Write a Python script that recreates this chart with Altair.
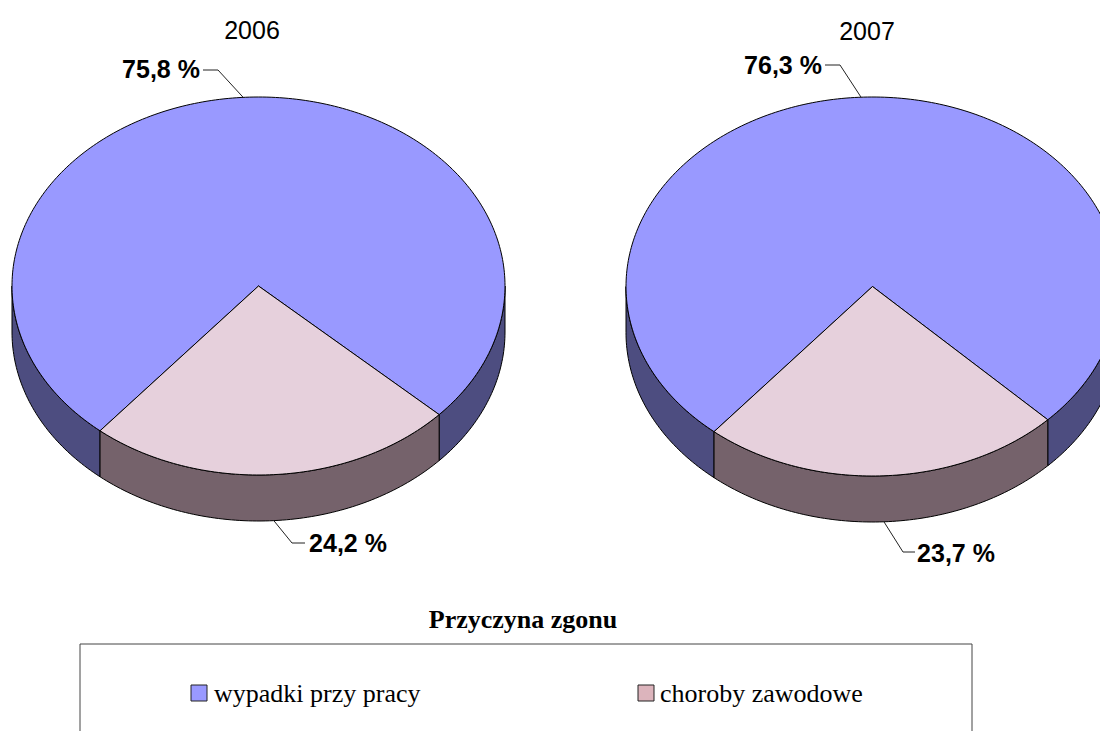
import math
import altair as alt

YEARS = ["2006", "2007"]
WYPADKI = [75.8, 76.3]
CHOROBY = [24.2, 23.7]
LABEL_W = ["75,8 %", "76,3 %"]
LABEL_C = ["24,2 %", "23,7 %"]
LEGEND_TITLE = "Przyczyna zgonu"
LEGEND_NAMES = ["wypadki przy pracy", "choroby zawodowe"]

W, H = 1092, 723
OFF = 8  # page margin
CX = [258.5 - OFF, 872.5 - OFF]
CY = [286 - OFF, 286.5 - OFF]
RX = [246.5, 246.5]
RY = [189, 189.5]
DEPTH = 46
START = 220.0

COL = {
    "blue": "#9999ff",
    "blue_side": "#4d4d80",
    "pink": "#e6d0dc",
    "pink_side": "#75626b",
    "swatch_pink": "#dcb4bc",
    "box": "#ffffff",
}


def pt(i, a, dy=0):
    r = math.radians(a)
    return [CX[i] + RX[i] * math.sin(r), CY[i] - RY[i] * math.cos(r) + dy]


def arc(i, a0, a1, dy=0):
    n = max(2, int(abs(a1 - a0)) + 2)
    return [pt(i, a0 + (a1 - a0) * k / (n - 1), dy) for k in range(n)]


def poly(coords, kind):
    ring = coords + [coords[0]]
    return {"type": "Feature", "properties": {"kind": kind},
            "geometry": {"type": "Polygon", "coordinates": [ring]}}


def line(coords):
    return {"type": "Feature", "properties": {"kind": "leader"},
            "geometry": {"type": "LineString", "coordinates": coords}}


def side(i, a0, a1, kind):
    out = []
    for lo, hi in ((90, 270), (450, 630)):
        s, e = max(a0, lo), min(a1, hi)
        if e > s:
            out.append(poly(arc(i, s, e) + arc(i, e, s, DEPTH), kind))
    return out


sides, tops, leaders = [], [], []
# elbow and end of each leader, relative to the page
ELBOW_W = [(218, 70), (840, 65)]
END_W = [(203, 70), (825, 65)]
ELBOW_C = [(292, 543), (903, 552)]
END_C = [(305, 543), (915, 552)]
for i in range(len(YEARS)):
    a_blue = START + WYPADKI[i] * 3.6
    a_pink = a_blue + CHOROBY[i] * 3.6
    sides += side(i, START, a_blue, "blue_side")
    sides += side(i, a_blue, a_pink, "pink_side")
    tops.append(poly([[CX[i], CY[i]]] + arc(i, START, a_blue), "blue"))
    tops.append(poly([[CX[i], CY[i]]] + arc(i, a_blue, a_pink), "pink"))
    m_blue = (START + a_blue) / 2
    m_pink = (a_blue + a_pink) / 2
    leaders.append(line([pt(i, m_blue), [ELBOW_W[i][0] - OFF, ELBOW_W[i][1] - OFF],
                         [END_W[i][0] - OFF, END_W[i][1] - OFF]]))
    leaders.append(line([pt(i, m_pink, DEPTH), [ELBOW_C[i][0] - OFF, ELBOW_C[i][1] - OFF],
                         [END_C[i][0] - OFF, END_C[i][1] - OFF]]))

box = [poly([[80 - OFF, 644 - OFF], [972 - OFF, 644 - OFF], [972 - OFF, 780], [80 - OFF, 780]], "box")]
swatches = [
    poly([[191 - OFF, 685 - OFF], [207 - OFF, 685 - OFF], [207 - OFF, 701 - OFF], [191 - OFF, 701 - OFF]], "blue"),
    poly([[638 - OFF, 685 - OFF], [654 - OFF, 685 - OFF], [654 - OFF, 701 - OFF], [638 - OFF, 701 - OFF]], "swatch_pink"),
]

kinds = list(COL)
color = alt.Color("properties.kind:N", legend=None,
                  scale=alt.Scale(domain=kinds, range=[COL[k] for k in kinds]))
proj = dict(type="identity", scale=1, translate=[0, 0])


def shapes(feats, sw=1.0, stroke="#000000"):
    return (alt.Chart(alt.Data(values=feats))
            .mark_geoshape(stroke=stroke, strokeWidth=sw, clip=True)
            .encode(color=color).project(**proj))


lead = (alt.Chart(alt.Data(values=leaders))
        .mark_geoshape(filled=False, stroke="#222222", strokeWidth=1, clip=True)
        .project(**proj))

xs = alt.X("x:Q", scale=alt.Scale(domain=[0, W]), axis=None)
ys = alt.Y("y:Q", scale=alt.Scale(domain=[H, 0]), axis=None)


def texts(rows, font, size, bold=False, align="left"):
    rows = [{"t": t, "x": x - OFF, "y": y - OFF} for t, x, y in rows]
    return (alt.Chart(alt.Data(values=rows))
            .mark_text(font=font, fontSize=size, fontWeight="bold" if bold else "normal",
                       align=align, baseline="middle", color="#000000")
            .encode(x=xs, y=ys, text="t:N"))


titles = texts([(YEARS[0], 252, 31), (YEARS[1], 867, 32)], "Liberation Sans", 25, align="center")
labels = texts([(LABEL_W[0], 161, 70), (LABEL_W[1], 783, 66),
                (LABEL_C[0], 348, 544), (LABEL_C[1], 956, 554)],
               "Liberation Sans", 25, bold=True, align="center")
ltitle = texts([(LEGEND_TITLE, 523, 620)], "Liberation Serif", 26, bold=True, align="center")
lnames = texts([(LEGEND_NAMES[0], 214, 694), (LEGEND_NAMES[1], 660, 694)], "Liberation Serif", 26)

chart = alt.layer(
    shapes(box, 1.0, "#444444"),
    shapes(sides), shapes(tops), lead, shapes(swatches, 1.0, "#222222"),
    titles, labels, ltitle, lnames,
).properties(width=W, height=H, padding=0, background="#ffffff").configure_view(stroke=None)

chart.save("out.html", embed_options={"renderer": "svg", "actions": False})
